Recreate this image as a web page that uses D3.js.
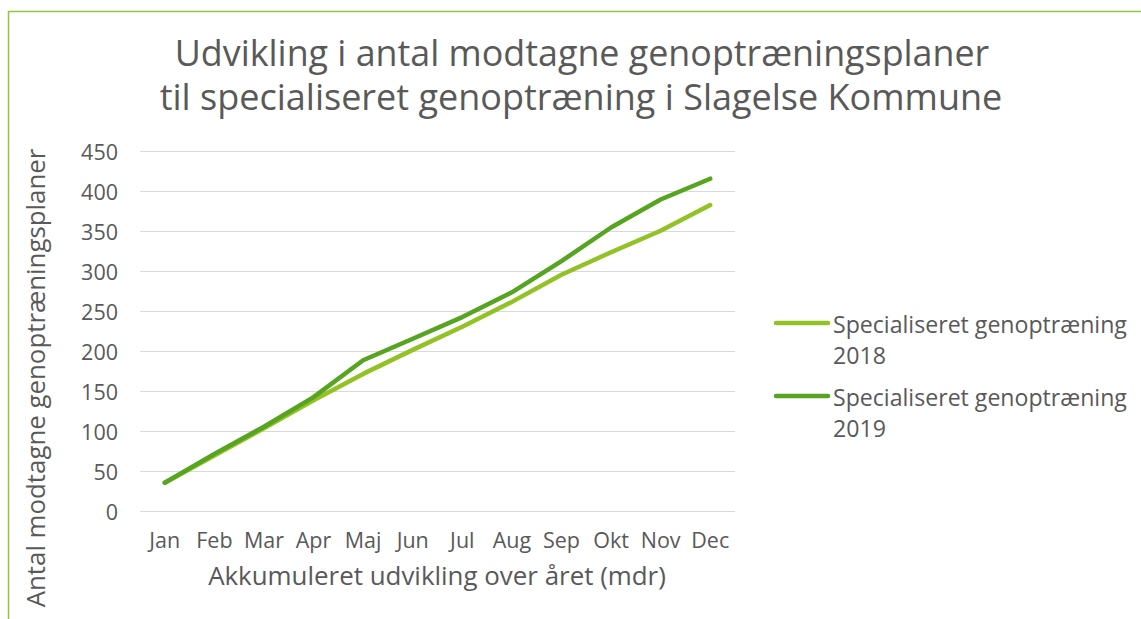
<!DOCTYPE html>
<html>
<head>
<meta charset="utf-8">
<script src="https://cdn.jsdelivr.net/npm/d3@7"></script>
<style>
  body { margin: 0; background: #fff; }
  text { font-family: "Open Sans", sans-serif; fill: #595959; }
</style>
</head>
<body>
<div id="chart"></div>
<script>
const months = ["Jan", "Feb", "Mar", "Apr", "Maj", "Jun", "Jul", "Aug", "Sep", "Okt", "Nov", "Dec"];
const values2018 = [36, 70, 104, 139, 172, 202, 231, 262, 296, 324, 351, 383];
const values2019 = [36, 72, 106, 143, 189, 216, 243, 274, 313, 355, 390, 416];
const yTicks = [0, 50, 100, 150, 200, 250, 300, 350, 400, 450];
const seriesNames = ["Specialiseret genoptræning 2018", "Specialiseret genoptræning 2019"];

const width = 1141, height = 619;
const colors = ["#92c225", "#57a420"];

const svg = d3.select("#chart").append("svg")
    .attr("width", width)
    .attr("height", height);

// scale a text's font so it spans the given width
function fit(sel, target) {
    const s = parseFloat(sel.style("font-size"));
    const w = sel.node().getComputedTextLength();
    sel.style("font-size", (s * target / w) + "px");
}

// frame lines on left and top
svg.append("path")
    .attr("d", "M8.5,619 V11.5 H1141")
    .attr("fill", "none")
    .attr("stroke", "#8cc63f")
    .attr("stroke-width", 1.5);

const x = d3.scaleBand().domain(months).range([140, 735]);
const y = d3.scaleLinear().domain([0, 450]).range([511.5, 151.5]);

// title
const t1 = svg.append("text")
    .attr("x", 582).attr("y", 66)
    .attr("text-anchor", "middle")
    .style("font-size", "33px")
    .text("Udvikling i antal modtagne genoptræningsplaner");
fit(t1, 815);
const t2 = svg.append("text")
    .attr("x", 581).attr("y", 110)
    .attr("text-anchor", "middle")
    .style("font-size", "33px")
    .text("til specialiseret genoptræning i Slagelse Kommune");
fit(t2, 843);

// grid
svg.append("g")
    .selectAll("line")
    .data(yTicks)
    .enter().append("line")
    .attr("x1", 140).attr("x2", 735)
    .attr("y1", d => y(d)).attr("y2", d => y(d))
    .attr("stroke", "#d9d9d9")
    .attr("stroke-width", 1.2);

// y axis
const yAxis = svg.append("g")
    .attr("transform", "translate(118,0)")
    .call(d3.axisLeft(y).tickValues(yTicks).tickSize(0).tickPadding(0));
yAxis.select(".domain").remove();
yAxis.selectAll("text").style("font-size", "21.5px").attr("dy", "0.35em");

// x axis
const xAxis = svg.append("g")
    .attr("transform", "translate(0,532)")
    .call(d3.axisBottom(x).tickSize(0).tickPadding(0));
xAxis.select(".domain").remove();
xAxis.selectAll("text").style("font-size", "21.5px").attr("dy", "0.75em");

// axis titles
const xt = svg.append("text")
    .attr("x", 437).attr("y", 585)
    .attr("text-anchor", "middle")
    .style("font-size", "21px")
    .text("Akkumuleret udvikling over året (mdr)");
fit(xt, 458);
const yt = svg.append("text")
    .attr("transform", "translate(45,378) rotate(-90)")
    .attr("text-anchor", "middle")
    .style("font-size", "21px")
    .text("Antal modtagne genoptræningsplaner");
fit(yt, 459);

// lines
const line = d3.line()
    .x((d, i) => x(months[i]) + x.bandwidth() / 2)
    .y(d => y(d));

[values2018, values2019].forEach((vals, i) => {
    svg.append("path")
        .datum(vals)
        .attr("d", line)
        .attr("fill", "none")
        .attr("stroke", colors[i])
        .attr("stroke-width", 4.5)
        .attr("stroke-linecap", "round")
        .attr("stroke-linejoin", "round");
});

// legend
const legend = svg.append("g");
seriesNames.forEach((name, i) => {
    const ly = 323 + i * 73;
    legend.append("line")
        .attr("x1", 776).attr("x2", 828)
        .attr("y1", ly).attr("y2", ly)
        .attr("stroke", colors[i])
        .attr("stroke-width", 4.5)
        .attr("stroke-linecap", "round");
    const parts = name.split(" ");
    const t = legend.append("text")
        .attr("x", 833).attr("y", ly + 10)
        .style("font-size", "20px");
    const first = t.append("tspan").text(parts.slice(0, 2).join(" "));
    t.append("tspan").attr("x", 833).attr("dy", 31).text(parts[2]);
    const s = parseFloat(t.style("font-size"));
    t.style("font-size", (s * 294 / first.node().getComputedTextLength()) + "px");
});
</script>
</body>
</html>
